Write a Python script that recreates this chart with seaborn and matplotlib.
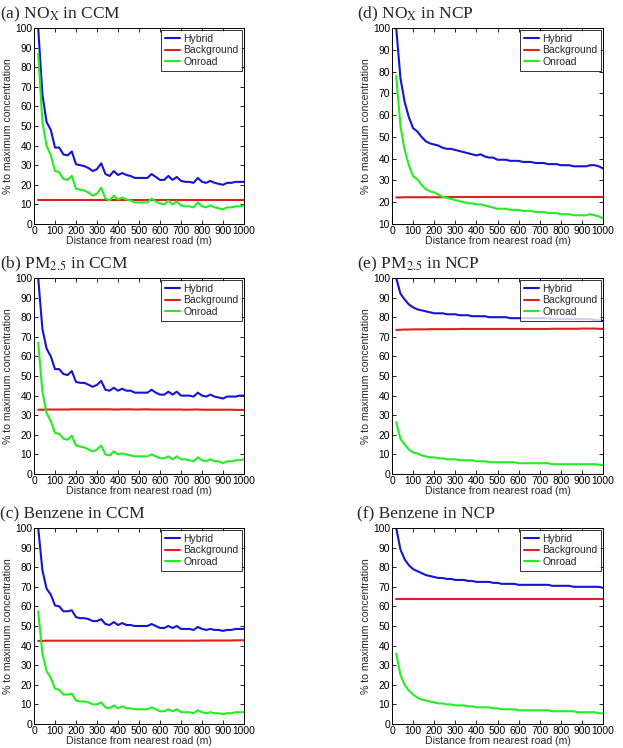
import numpy as np
import pandas as pd
import seaborn as sns
import matplotlib
matplotlib.use("Agg")
import matplotlib.pyplot as plt

sns.set_style("ticks")
plt.rcParams["font.family"] = ["Liberation Sans", "DejaVu Sans"]
plt.rcParams["mathtext.fontset"] = "stix"
plt.rcParams["xtick.direction"] = "in"
plt.rcParams["ytick.direction"] = "in"

distance = list(range(20, 1001, 20))
series_names = ["Hybrid", "Background", "Onroad"]
colors = {"Hybrid": "#1414d2", "Background": "#e01e1e", "Onroad": "#22ee22"}

titles = [r"(a) NO$_{\mathrm{X}}$ in CCM", r"(b) PM$_{2.5}$ in CCM", r"(c) Benzene in CCM",
          r"(d) NO$_{\mathrm{X}}$ in NCP", r"(e) PM$_{2.5}$ in NCP", r"(f) Benzene in NCP"]

# (a) NOx CCM
a_hybrid = [100, 66, 52, 48, 39, 39, 35.5, 35, 37, 30.5, 30, 29.5, 28.5, 27, 28, 31, 25.5, 24.5, 27, 25,
            26, 25, 24.5, 23.5, 23.5, 23.5, 23.5, 25.5, 24, 22.5, 22.5, 24.5, 22.5, 24, 22, 21.5, 21.5, 21, 23.5, 21.5,
            21, 22, 21, 20.5, 20, 21, 21, 21.5, 21.5, 21.5]
a_background = [12.5, 12.5, 12.5, 12.5, 12.5, 12.5, 12.5, 12.5, 12.5, 12.5, 12.5, 12.5, 12.5, 12.5, 12.5, 12.5, 12.5,
                12.5, 12.5, 12.5, 12.5, 12.5, 12.5, 12.5, 12.5, 12.5, 12.5, 12.5, 12.5, 12.5, 12.5, 12.5, 12.5, 12.5,
                12.5, 12.5, 12.5, 12.5, 12.5, 12.5, 12.5, 12.5, 12.5, 12.5, 12.5, 12.5, 12.5, 12.5, 12.5, 12.5]
a_onroad = [87, 52, 40, 35, 27, 26.5, 23, 22.5, 24.5, 18, 17.5, 17, 16, 14.5, 15.5, 18.5, 13, 12, 14.5, 12.5,
            13.5, 12.5, 12, 11, 11, 11, 11, 13, 11.5, 10.5, 10, 12, 10, 11.5, 9.5, 9, 9, 8.5, 11, 9,
            8.5, 9.5, 8.5, 8, 7.5, 8.5, 8.5, 9, 9, 9.5]

# (b) PM2.5 CCM
b_hybrid = [100, 74, 64, 60, 53.5, 53.5, 51, 50.5, 52.5, 47, 46.5, 46.5, 45.5, 44.5, 45.5, 47.5, 43, 42.5, 44, 42.5,
            43.5, 42.5, 42.5, 41.5, 41.5, 41.5, 41.5, 43, 41.5, 40.5, 40.5, 42, 40.5, 42, 40, 40, 40, 39.5, 41.5, 40,
            39.5, 40.5, 39.5, 39, 38.5, 39.5, 39.5, 39.5, 40, 40]
b_background = [32.8, 32.8, 32.9, 32.9, 32.9, 32.9, 32.9, 32.9, 33, 33, 33, 33, 33, 33, 33, 33, 33, 33, 32.9, 32.9,
                33, 33, 33, 32.9, 32.9, 33, 33, 32.9, 32.9, 32.9, 32.9, 32.9, 32.9, 32.9, 32.9, 32.8, 32.8, 32.9, 32.9,
                32.8, 32.8, 32.8, 32.8, 32.8, 32.8, 32.8, 32.8, 32.7, 32.7, 32.7]
b_onroad = [67, 42, 31, 27, 21, 20.5, 18, 17.5, 19.5, 14.5, 14, 13.5, 12.5, 11.5, 12.5, 14.5, 10, 9.5, 11.5, 10,
            10.5, 10, 9.5, 9, 9, 9, 9, 10, 9, 8, 8, 9, 7.5, 9, 7.5, 7.5, 7, 6.5, 8.5, 7,
            6.5, 7.5, 6.5, 6.5, 5.5, 6.5, 6.5, 7, 7, 7.5]

# (c) Benzene CCM
c_hybrid = [100, 78.5, 69, 66, 60.5, 60, 57.5, 57.5, 58, 54.5, 54, 54, 53.5, 52.5, 52.5, 53.5, 51, 50.5, 52, 50.5,
            51.5, 50.5, 50.5, 50, 50, 50, 50, 51, 50, 49, 49, 50, 49, 50, 48.5, 48.5, 48.5, 48, 49.5, 48.5,
            48, 48.5, 48, 48, 47.5, 48, 48, 48.5, 48.5, 48.5]
c_background = [42.4, 42.4, 42.5, 42.5, 42.5, 42.5, 42.5, 42.5, 42.5, 42.5, 42.5, 42.5, 42.5, 42.5, 42.5, 42.5,
                42.5, 42.5, 42.5, 42.5, 42.5, 42.5, 42.5, 42.5, 42.5, 42.5, 42.5, 42.5, 42.5, 42.5, 42.5, 42.5, 42.5,
                42.5, 42.5, 42.5, 42.5, 42.5, 42.5, 42.6, 42.6, 42.6, 42.6, 42.6, 42.6, 42.6, 42.6, 42.7, 42.7, 42.7]
c_onroad = [57.5, 36, 27, 23.5, 18, 17.5, 15, 15, 15.5, 12, 11.5, 11.5, 11, 10, 10, 11, 8.5, 8, 9.5, 8,
            9, 8, 8, 7.5, 7.5, 7.5, 7.5, 8.5, 7.5, 6.5, 6.5, 7.5, 6.5, 7.5, 6, 6, 6, 5.5, 7, 6,
            5.5, 6, 5.5, 5.5, 5, 5.5, 5.5, 6, 6, 6]

# (d) NOx NCP
d_hybrid = [100, 77, 66, 59, 54, 52.5, 50, 48, 47, 46.5, 46, 45, 44.5, 44.5, 44, 43.5, 43, 42.5, 42, 41.5,
            42, 41, 40.5, 40.5, 39.5, 39.5, 39.5, 39, 39, 39, 38.5, 38.5, 38.5, 38, 38, 38, 37.5, 37.5, 37.5, 37,
            37, 37, 36.5, 36.5, 36.5, 36.5, 37, 37, 36.5, 35.5]
d_background = [22.2, 22.2, 22.3, 22.3, 22.3, 22.3, 22.3, 22.3, 22.3, 22.3, 22.3, 22.3, 22.4, 22.4, 22.4, 22.4, 22.4,
                22.4, 22.4, 22.4, 22.4, 22.4, 22.4, 22.4, 22.4, 22.4, 22.4, 22.4, 22.4, 22.4, 22.4, 22.4, 22.4, 22.4,
                22.4, 22.4, 22.4, 22.4, 22.4, 22.4, 22.4, 22.4, 22.4, 22.4, 22.4, 22.4, 22.4, 22.4, 22.4, 22.4]
d_onroad = [78, 55, 44, 37, 32, 30.5, 28, 26, 25, 24.5, 23.5, 22.5, 22, 21.5, 21, 20.5, 20, 19.5, 19.5, 19,
            19, 18.5, 18, 17.5, 17, 17, 17, 16.5, 16.5, 16.5, 16, 16, 16, 15.5, 15.5, 15.5, 15, 15, 15, 14.5,
            14.5, 14.5, 14, 14, 14, 14, 14.5, 14, 13.5, 12.5]

# (e) PM2.5 NCP
e_hybrid = [100, 92, 89, 86.5, 85, 84, 83.5, 83, 82.5, 82, 82, 82, 81.5, 81.5, 81.5, 81, 81, 81, 80.5, 80.5,
            80.5, 80.5, 80, 80, 80, 80, 80, 79.5, 79.5, 79.5, 79.5, 79.5, 79.5, 79.5, 79.5, 79.5, 79.5, 79, 79, 79,
            79, 79, 79, 79, 79, 79, 79, 78.5, 78.5, 78]
e_background = [73.5, 73.6, 73.7, 73.7, 73.8, 73.8, 73.8, 73.8, 73.9, 73.9, 73.9, 73.9, 73.9, 73.9, 73.9, 74, 74,
                74, 74, 74, 74, 74, 74, 74, 74, 74, 74, 74, 74, 74, 74, 74, 74, 74, 74, 74, 74, 74.1, 74.1, 74.1,
                74.1, 74.1, 74.1, 74.1, 74.2, 74.2, 74.2, 74.2, 74.1, 74]
e_onroad = [26.5, 18, 15, 12.5, 11, 10.5, 9.5, 9, 8.5, 8.5, 8, 8, 7.5, 7.5, 7.5, 7, 7, 7, 7, 6.5,
            6.5, 6.5, 6, 6, 6, 6, 6, 6, 6, 5.5, 5.5, 5.5, 5.5, 5.5, 5.5, 5.5, 5.5, 5, 5, 5,
            5, 5, 5, 5, 5, 5, 5, 5, 4.8, 4.5]

# (f) Benzene NCP
f_hybrid = [100, 89, 84, 81, 79, 78, 77, 76, 75.5, 75, 74.5, 74.5, 74, 74, 73.5, 73.5, 73.5, 73, 73, 72.5,
            72.5, 72.5, 72.5, 72, 72, 71.5, 71.5, 71.5, 71.5, 71, 71, 71, 71, 71, 71, 71, 71, 70.5, 70.5, 70.5,
            70.5, 70.5, 70, 70, 70, 70, 70, 70, 70, 69.5]
f_background = [64, 64, 64, 64, 64, 64, 64, 64, 64, 64, 64, 64, 64, 64, 64, 64, 64, 64, 64, 64, 64, 64, 64, 64, 64,
                64, 64, 64, 64, 64, 64, 64, 64, 64, 64, 64, 64, 64, 64, 64, 64, 64, 64, 64, 64, 64, 64, 64, 64, 64]
f_onroad = [36, 25, 20, 17, 15, 13.5, 12.5, 12, 11.5, 11, 10.5, 10.5, 10, 10, 9.5, 9.5, 9.5, 9, 9, 8.5,
            8.5, 8.5, 8.5, 8, 8, 7.5, 7.5, 7.5, 7.5, 7, 7, 7, 7, 7, 7, 7, 7, 6.5, 6.5, 6.5,
            6.5, 6.5, 6.5, 6, 6, 6, 6, 6, 5.5, 5.5]

panels = [
    (a_hybrid, a_background, a_onroad, 0),
    (b_hybrid, b_background, b_onroad, 0),
    (c_hybrid, c_background, c_onroad, 0),
    (d_hybrid, d_background, d_onroad, 10),
    (e_hybrid, e_background, e_onroad, 0),
    (f_hybrid, f_background, f_onroad, 0),
]

W, H = 623, 748
fig = plt.figure(figsize=(W / 100, H / 100), dpi=100)

col_left = [34, 392]
col_w = [210, 211]
row_top = [28, 278, 528]
ax_h = 196
title_x = [0, 357]

for i, (hy, bg, on, ymin) in enumerate(panels):
    col = i // 3
    row = i % 3
    left = col_left[col] / W
    bottom = 1 - (row_top[row] + ax_h) / H
    ax = fig.add_axes([left, bottom, col_w[col] / W, ax_h / H])
    df = pd.DataFrame({
        "distance": distance * 3,
        "value": hy + bg + on,
        "series": ["Hybrid"] * len(distance) + ["Background"] * len(distance) + ["Onroad"] * len(distance),
    })
    sns.lineplot(data=df, x="distance", y="value", hue="series", hue_order=series_names,
                 palette=colors, linewidth=1.5, ax=ax, legend=False)
    ax.set_xlim(0, 1000)
    ax.set_ylim(ymin, 100)
    ax.set_xticks(range(0, 1001, 100))
    ax.set_yticks(range(ymin, 101, 10))
    ax.tick_params(axis="both", labelsize=7.4, length=3, width=0.6, pad=1.5,
                   top=True, right=True, colors="black")
    for s in ax.spines.values():
        s.set_visible(True)
        s.set_linewidth(0.7)
        s.set_color("black")
    ax.set_xlabel("Distance from nearest road (m)", fontsize=7.6, labelpad=0)
    ax.set_ylabel("% to maximum concentration", fontsize=7.6, labelpad=1.5)
    handles = [plt.Line2D([], [], color=colors[n], linewidth=1.5) for n in series_names]
    leg = ax.legend(handles, series_names, loc="upper right", fontsize=7.5, frameon=True,
                    fancybox=False, borderpad=0.4, labelspacing=0.15, handlelength=1.5,
                    handletextpad=0.25, borderaxespad=0.15)
    leg.get_frame().set_edgecolor("black")
    leg.get_frame().set_linewidth(0.7)
    fig.text(title_x[col] / W, 1 - (row_top[row] - 14) / H, titles[i],
             fontsize=12.5, family=["Liberation Serif"], ha="left", va="center")

fig.savefig("out.png", dpi=100)
